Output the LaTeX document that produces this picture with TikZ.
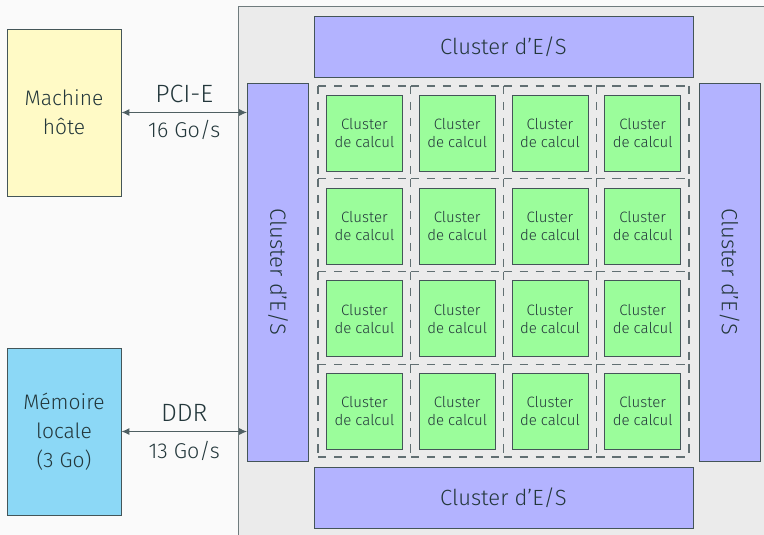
\documentclass[tikz,border=0pt]{standalone}
\usepackage{fontspec}
\setmainfont{Fira Sans Light}
\usetikzlibrary{arrows.meta,calc}

\definecolor{ink}{HTML}{23373B}
\definecolor{page}{HTML}{FAFAFA}
\definecolor{chipfill}{HTML}{EBEBEB}
\definecolor{chipline}{HTML}{6F7B7D}
\definecolor{iofill}{HTML}{B3B3FF}
\definecolor{cpufill}{HTML}{9BFD9B}
\definecolor{hostfill}{HTML}{FFFAC6}
\definecolor{memfill}{HTML}{8CD8F6}

\tikzset{
  box/.style={draw=ink!85, line width=0.8pt, inner sep=0pt, text=ink, align=center},
  hostbox/.style={box, fill=hostfill, minimum width=114pt, minimum height=167pt,
    font=\fontsize{21}{29}\selectfont},
  membox/.style={box, fill=memfill, minimum width=114pt, minimum height=167pt,
    font=\fontsize{21}{29}\selectfont},
  iohoriz/.style={box, fill=iofill, minimum width=379pt, minimum height=61pt,
    font=\fontsize{22}{26}\selectfont},
  iovert/.style={box, fill=iofill, minimum width=61pt, minimum height=378pt,
    font=\fontsize{22}{26}\selectfont},
  cpubox/.style={box, fill=cpufill, minimum width=76pt, minimum height=76pt,
    font=\fontsize{15}{18}\selectfont},
  cellframe/.style={draw=ink!72, line width=1.2pt, dash pattern=on 8.3pt off 7.7pt},
  link/.style={draw=ink!80, line width=1.2pt, {Latex[length=8pt,width=7pt]}-{Latex[length=8pt,width=7pt]}},
  biglbl/.style={text=ink, inner sep=0pt, anchor=base, font=\fontsize{25}{30}\selectfont},
  ratelbl/.style={text=ink, inner sep=0pt, anchor=base, font=\fontsize{21.5}{26}\selectfont},
}

\begin{document}
\begin{tikzpicture}[x=1pt, y=-1pt]
\useasboundingbox (0,0) rectangle (764,535);
\fill[page] (0,0) rectangle (764,535);

% chip outline, running past the right and bottom edges
\begin{scope}
  \clip (0,0) rectangle (764,535);
  \draw[fill=chipfill, draw=chipline, line width=1pt] (238,7) rectangle (780,550);
\end{scope}

% external components
\node[hostbox] (host) at (64,112.5) {Machine\\hôte};
\node[membox]  (mem)  at (64,431.5) {Mémoire\\locale\\(3 Go)};

% I/O clusters around the compute grid
\node[iohoriz] (iotop) at (503.5,46.5) {Cluster d’E/S};
\node[iohoriz] (iobot) at (503.5,498) {Cluster d’E/S};
\node[iovert]  (ioleft) at (278,272) {\rotatebox{-90}{Cluster d’E/S}};
\node[iovert]  (ioright) at (729.5,272) {\rotatebox{-90}{Cluster d’E/S}};

% dashed cell borders: every edge starts with a dash at its corner
\foreach \i in {0,...,4}{
  \foreach \j in {0,...,3}{
    \draw[cellframe] ({318+92.75*\j},{86+92.75*\i}) -- ++(92.75,0);
    \draw[cellframe] ({318+92.75*\i},{86+92.75*\j}) -- ++(0,92.75);
  }
}

% 4x4 grid of compute clusters
\foreach \c in {0,...,3}{
  \foreach \r in {0,...,3}{
    \node[cpubox] (cpu\r\c) at ({318+92.75*\c+46.4},{86+92.75*\r+47.2}) {Cluster\\de calcul};
  }
}

% links to the host and to the memory
\coordinate (pcieEnd) at (host.east -| ioleft.west);
\draw[link] (host.east) -- (pcieEnd);
\node[biglbl]  (pcie)   at ($(host.east)!0.5!(pcieEnd) + (0,-10)$) {PCI-E};
\node[ratelbl] (pcirate) at ($(host.east)!0.5!(pcieEnd) + (0,25.5)$) {16 Go/s};

\coordinate (ddrEnd) at (mem.east -| ioleft.west);
\draw[link] (mem.east) -- (ddrEnd);
\node[biglbl]  (ddr)    at ($(mem.east)!0.5!(ddrEnd) + (0,-10)$) {DDR};
\node[ratelbl] (ddrrate) at ($(mem.east)!0.5!(ddrEnd) + (0,26.5)$) {13 Go/s};
\end{tikzpicture}
\end{document}
